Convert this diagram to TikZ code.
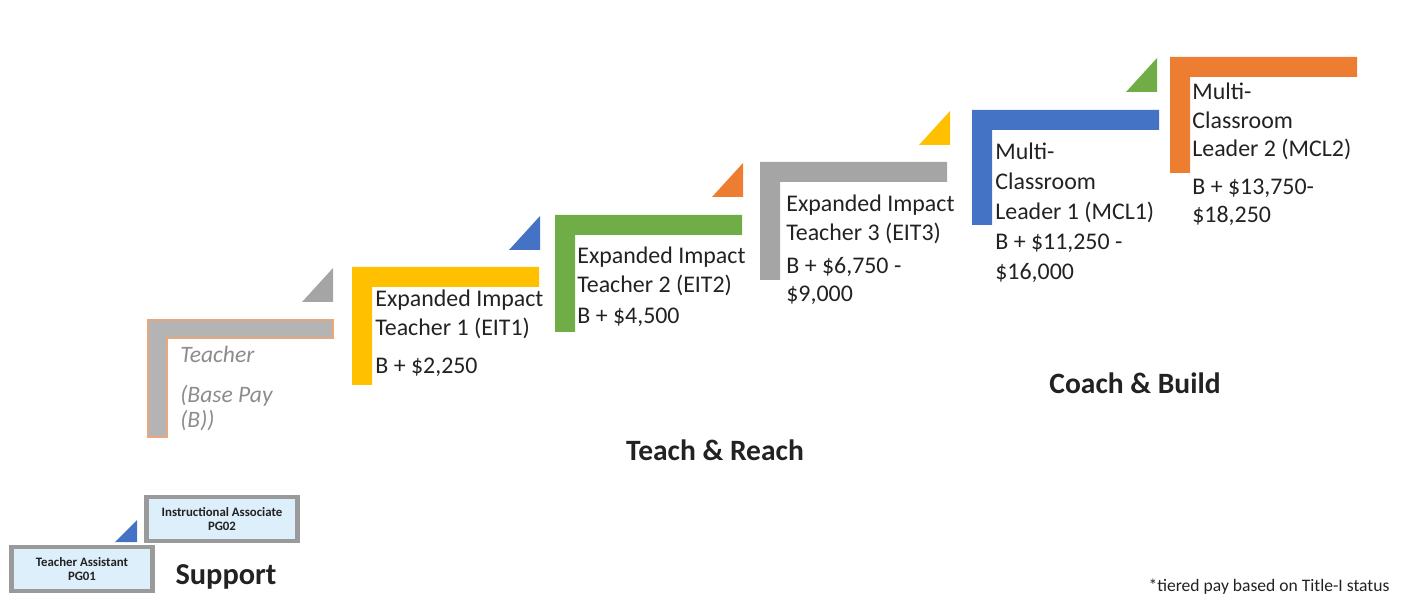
\documentclass[tikz,border=0pt]{standalone}
\usepackage{fontspec}
\setmainfont{Carlito}
\usetikzlibrary{positioning,shadows}
\definecolor{stepgold}{HTML}{FFC000}
\definecolor{stepgreen}{HTML}{70AD47}
\definecolor{stepgray}{HTML}{A5A5A5}
\definecolor{stepblue}{HTML}{4472C4}
\definecolor{steporange}{HTML}{ED7D31}
\definecolor{teachergray}{HTML}{B4B4B4}
\definecolor{teacheredge}{HTML}{E8A77C}
\definecolor{boxblue}{HTML}{DDEFFA}
\definecolor{boxedge}{HTML}{9A9A9A}
\definecolor{textgray}{HTML}{222222}
\definecolor{softgray}{HTML}{8C8C8C}

\begin{document}
\begin{tikzpicture}[x=0.02cm, y=-0.02cm, font=\fontsize{13.6}{16}\selectfont,
    steptext/.style={anchor=north west, inner sep=0pt, align=left, text=textgray},
    pgbox/.style={draw=boxedge, line width=2.5pt, fill=boxblue, minimum width=2.82cm, minimum height=0.87cm,
        align=center, font=\fontsize{7.3}{8}\selectfont\bfseries, text=textgray,
        drop shadow={opacity=0.35, shadow xshift=1pt, shadow yshift=-1.5pt}},
    tag/.style={font=\fontsize{16.8}{19}\selectfont\bfseries, text=textgray}]
    \useasboundingbox (0,0) rectangle (1406,594);
    \foreach \x/\y/\b/\col in {352/267/385/stepgold, 555/215/332/stepgreen, 760/162/280/stepgray, 972/110/225/stepblue, 1170/57/173/steporange}
        {\fill[\col] (\x,\y) -- ++(187,0) -- ++(0,20) -- (\x+20,\y+20) -- (\x+20,\b) -- (\x,\b) -- cycle;}
    \filldraw[fill=teachergray, draw=teacheredge, line width=1pt] (148,320) -- ++(185,0) -- ++(0,18) -- (167,338) -- (167,437) -- (148,437) -- cycle;
    \foreach \x/\y/\col in {333/302/stepgray, 540/250/stepblue, 743/197/steporange, 950/145/stepgold, 1157/92/stepgreen}
        {\fill[\col] (\x,\y) -- ++(-31,0) -- ++(31,-34) -- cycle;}
    \fill[stepblue] (137,542) -- ++(-22,0) -- ++(22,-22) -- cycle;

    \node[steptext, text=softgray, font=\fontsize{13.4}{14.5}\selectfont\itshape] (teacher) at (180,346) {Teacher\\[8pt](Base Pay\\(B))};
    \node[steptext] (eit1) at (375,290) {Expanded Impact\\Teacher 1 (EIT1)\\[6pt]B + \$2,250};
    \node[steptext] (eit2) at (577,247) {Expanded Impact\\Teacher 2 (EIT2)\\[2pt]B + \$4,500};
    \node[steptext] (eit3) at (786,195) {Expanded Impact\\Teacher 3 (EIT3)\\[3pt]B + \$6,750 -\\\$9,000};
    \node[steptext, font=\fontsize{13.6}{17}\selectfont] (mcl1) at (995,143) {Multi-\\Classroom\\Leader 1 (MCL1)\\B + \$11,250 -\\\$16,000};
    \node[steptext] (mcl2) at (1192,83) {Multi-\\Classroom\\Leader 2 (MCL2)\\[6pt]B + \$13,750-\\\$18,250};

    \node[tag] (teach) at (715,450) {Teach \& Reach};
    \node[tag] (coach) at (1135,383) {Coach \& Build};
    \node[pgbox] (ta) at (82,569) {Teacher Assistant\\PG01};
    \node[pgbox, minimum width=3.02cm] (ia) at (222,519) {Instructional Associate\\PG02};
    \node[tag, font=\fontsize{17.3}{19}\selectfont\bfseries] (support) at (226,577) {Support};
    \node[font=\fontsize{10}{11}\selectfont, text=textgray] (note) at (1269,587) {*tiered pay based on Title-I status};
\end{tikzpicture}
\end{document}
